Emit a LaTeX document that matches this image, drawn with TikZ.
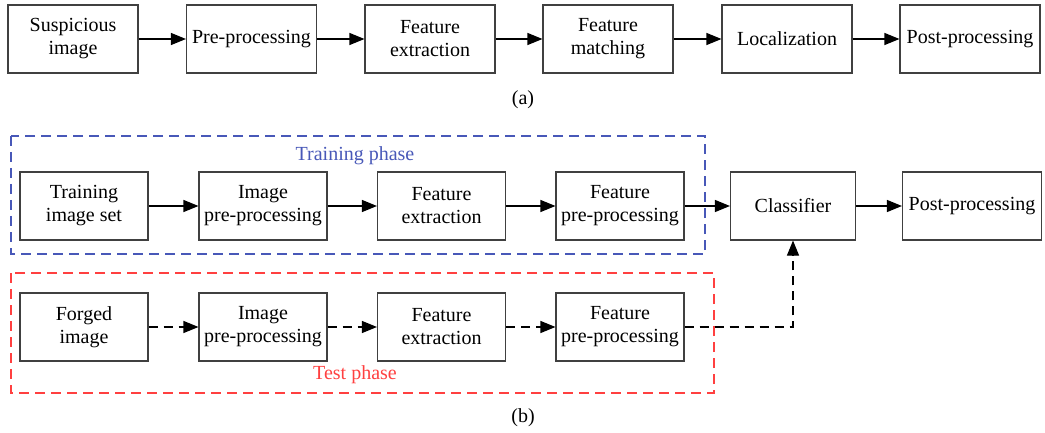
\documentclass[tikz,border=0pt]{standalone}
\usepackage{fontspec}
\setmainfont{Liberation Serif}
\usetikzlibrary{arrows.meta}
\definecolor{trainblue}{RGB}{72,88,184}
\definecolor{testred}{RGB}{255,64,64}
\tikzset{
  stage/.style={draw=black!75,line width=0.55pt,fill=white,minimum width=65pt,
    minimum height=34pt,inner sep=1pt,align=center,
    font=\fontsize{10}{11.5}\selectfont},
  flow/.style={-{Triangle[length=7.5pt,width=6pt]},line width=0.55pt},
  weak/.style={dash pattern=on 4.5pt off 3pt},
  phase/.style={dash pattern=on 5pt off 3pt,line width=0.55pt},
  lbl/.style={font=\fontsize{10}{12}\selectfont},
}

\begin{document}
\begin{tikzpicture}[x=0.5pt,y=-0.5pt]
\useasboundingbox (0,0) rectangle (1045,433);
% phase frames
\draw [phase,trainblue] (11,136) rectangle (705,254);
\draw [phase,testred] (11,273) rectangle (714,393);
\node [lbl,text=trainblue] (trainlbl) at (355,156) {Training phase};
\node [lbl,text=testred] (testlbl) at (355,375) {Test phase};
%(a)
\node [stage] (susp) at (73,39) {Suspicious\\image};
\node [stage] (prep) at (251.5,39) {Pre-processing};
\node [stage] (fext) at (430,39) {Feature\\extraction};
\node [stage] (fmat) at (608,39) {Feature\\matching};
\node [stage] (loca) at (787,39) {Localization};
\node [stage,minimum width=70pt] (posta) at (970,39) {Post-processing};
\draw [flow] (susp) -- (prep);
\draw [flow] (prep) -- (fext);
\draw [flow] (fext) -- (fmat);
\draw [flow] (fmat) -- (loca);
\draw [flow] (loca) -- (posta);
\node [lbl] (capa) at (523,100) {(a)};
%(b) training
\node [stage,minimum width=64pt] (tset) at (84,206) {Training\\image set};
\node [stage,minimum width=64pt] (ipre1) at (263,206) {Image\\pre-processing};
\node [stage,minimum width=64pt] (fext1) at (441.5,206) {Feature\\extraction};
\node [stage,minimum width=64pt] (fpre1) at (620,206) {Feature\\pre-processing};
\node [stage,minimum width=62.5pt] (cls) at (793,206) {Classifier};
\node [stage,minimum width=69.5pt] (postb) at (972,206) {Post-processing};
\draw [flow] (tset) -- (ipre1);
\draw [flow] (ipre1) -- (fext1);
\draw [flow] (fext1) -- (fpre1);
\draw [flow] (fpre1) -- (cls);
\draw [flow] (cls) -- (postb);
%(b) test
\node [stage,minimum width=64pt] (forg) at (84,327) {Forged\\image};
\node [stage,minimum width=64pt] (ipre2) at (263,327) {Image\\pre-processing};
\node [stage,minimum width=64pt] (fext2) at (441.5,327) {Feature\\extraction};
\node [stage,minimum width=64pt] (fpre2) at (620,327) {Feature\\pre-processing};
\draw [flow,weak] (forg) -- (ipre2);
\draw [flow,weak] (ipre2) -- (fext2);
\draw [flow,weak] (fext2) -- (fpre2);
\draw [flow,weak] (fpre2.east) -| (cls.south);
\node [lbl] (capb) at (523,418) {(b)};
\end{tikzpicture}
\end{document}
